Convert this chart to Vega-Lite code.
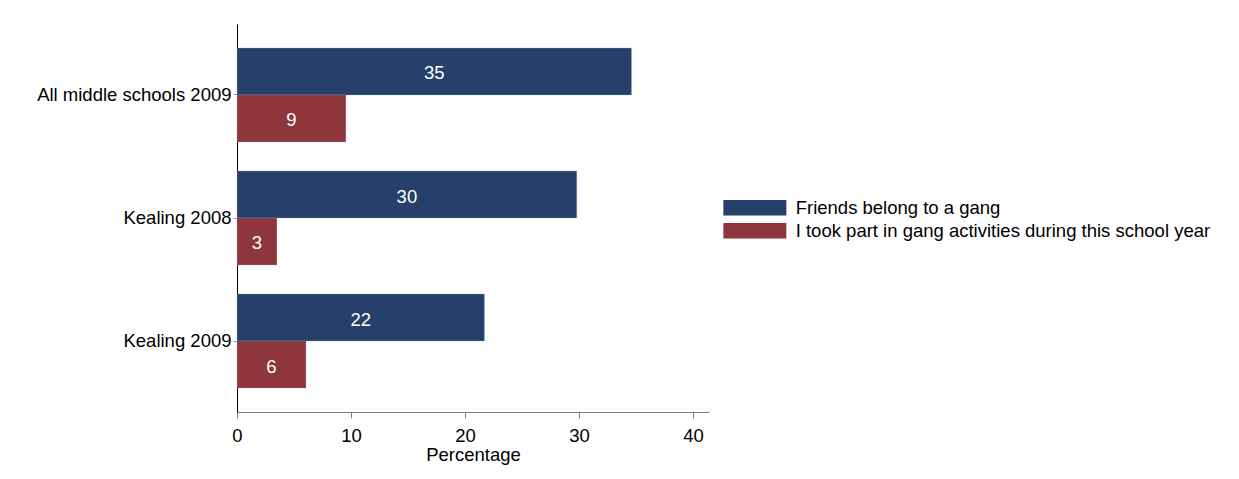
{
  "$schema": "https://vega.github.io/schema/vega-lite/v6.json",
  "autosize": "none",
  "width": 472,
  "height": 388,
  "padding": {"left": 237, "top": 24, "right": 530, "bottom": 67},
  "background": "white",
  "config": {
    "view": {"stroke": null},
    "font": "Liberation Sans"
  },
  "data": {
    "values": [
      {"group": "All middle schools 2009", "series": "Friends belong to a gang", "value": 34.6, "label": "35"},
      {"group": "All middle schools 2009", "series": "I took part in gang activities during this school year", "value": 9.55, "label": "9"},
      {"group": "Kealing 2008", "series": "Friends belong to a gang", "value": 29.8, "label": "30"},
      {"group": "Kealing 2008", "series": "I took part in gang activities during this school year", "value": 3.5, "label": "3"},
      {"group": "Kealing 2009", "series": "Friends belong to a gang", "value": 21.7, "label": "22"},
      {"group": "Kealing 2009", "series": "I took part in gang activities during this school year", "value": 6.05, "label": "6"}
    ]
  },
  "transform": [{"calculate": "datum.value / 2", "as": "mid"}],
  "encoding": {
    "y": {
      "field": "group",
      "type": "nominal",
      "sort": ["All middle schools 2009", "Kealing 2008", "Kealing 2009"],
      "scale": {"paddingInner": 0.236, "paddingOuter": 0.195},
      "axis": {
        "title": null,
        "domainColor": "#000000",
        "tickColor": "#999999",
        "tickSize": 4,
        "labelPadding": 2,
        "labelFontSize": 18.5,
        "labelColor": "#000000",
        "labelFont": "Liberation Sans",
        "labelLimit": 400
      }
    },
    "yOffset": {
      "field": "series",
      "type": "nominal",
      "sort": ["Friends belong to a gang", "I took part in gang activities during this school year"],
      "scale": {"paddingInner": 0, "paddingOuter": 0}
    }
  },
  "layer": [
    {
      "mark": {"type": "bar", "stroke": "#9aa7c0", "strokeWidth": 0.5, "strokeOpacity": 0.6},
      "encoding": {
        "x": {
          "field": "value",
          "type": "quantitative",
          "scale": {"domain": [0, 41.4], "nice": false, "zero": true},
          "axis": {
            "title": "Percentage",
            "values": [0, 10, 20, 30, 40],
            "grid": false,
            "domainColor": "#808080",
            "tickColor": "#808080",
            "tickSize": 6,
            "labelPadding": 8,
            "labelFontSize": 18.5,
            "labelColor": "#000000",
            "labelFont": "Liberation Sans",
            "labelFlush": false,
            "titleFontSize": 18.5,
            "titleFontWeight": "normal",
            "titleColor": "#000000",
            "titleFont": "Liberation Sans",
            "titlePadding": 1
          }
        },
        "color": {
          "field": "series",
          "type": "nominal",
          "scale": {
            "domain": ["Friends belong to a gang", "I took part in gang activities during this school year"],
            "range": ["#273f6b", "#8f363c"]
          },
          "legend": {
            "title": null,
            "orient": "none",
            "legendX": 508.6,
            "legendY": 174.5,
            "padding": 0,
            "symbolType": "M-4,-1H4V1H-4Z",
            "symbolSize": 248,
            "symbolStrokeWidth": 0,
            "symbolOpacity": 1,
            "labelFontSize": 18.5,
            "labelFont": "Liberation Sans",
            "labelColor": "#000000",
            "labelOffset": 31.6,
            "rowPadding": 4,
            "labelLimit": 700
          }
        }
      }
    },
    {
      "mark": {"type": "text", "color": "white", "fontSize": 18.5, "font": "Liberation Sans", "align": "center", "baseline": "middle", "dy": 2},
      "encoding": {
        "x": {"field": "mid", "type": "quantitative"},
        "text": {"field": "label", "type": "nominal"}
      }
    }
  ]
}
